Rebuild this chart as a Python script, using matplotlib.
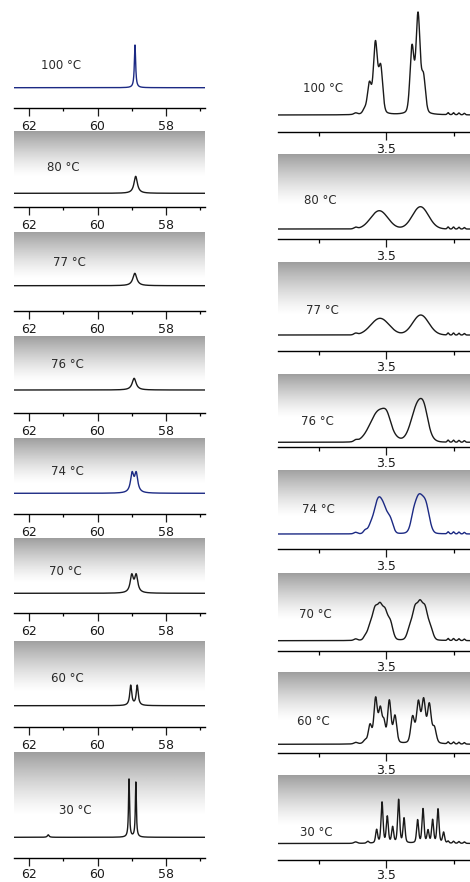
import numpy as np
import matplotlib
matplotlib.use('Agg')
import matplotlib.pyplot as plt
from matplotlib.ticker import FixedLocator, FixedFormatter, NullFormatter

temps = [100, 80, 77, 76, 74, 70, 60, 30]

# left column, 31P lines: (ppm, height, fwhm)
p31_100 = [(58.905, 42.7, 0.045)]
p31_80 = [(58.885, 17.0, 0.12)]
p31_77 = [(58.91, 12.4, 0.14)]
p31_76 = [(58.93, 11.7, 0.14)]
p31_74 = [(58.99, 18.5, 0.11), (58.87, 18.5, 0.11)]
p31_70 = [(59.00, 17.0, 0.11), (58.87, 17.0, 0.11)]
p31_60 = [(59.03, 20.0, 0.07), (58.84, 20.0, 0.07)]
p31_30 = [(61.44, 2.5, 0.06), (59.08, 58.0, 0.035), (58.88, 55.0, 0.035)]

# right column, 1H lines: (ppm, height, fwhm)
h1_small = [(3.545, 1.5, 0.006), (3.408, 2.0, 0.003), (3.400, 2.0, 0.003),
            (3.392, 1.8, 0.003), (3.384, 1.5, 0.003)]
h1_100 = [(3.532, 4.0, 0.006), (3.5246, 30.0, 0.007), (3.5157, 70.0, 0.007),
          (3.5079, 46.0, 0.007), (3.4615, 66.0, 0.007), (3.4526, 98.0, 0.007),
          (3.4446, 36.0, 0.007)]
h1_80 = [(3.510, 18.3, 0.030), (3.449, 22.3, 0.028)]
h1_77 = [(3.5089, 16.7, 0.032), (3.4486, 20.0, 0.028)]
h1_76 = [(3.5095, 32.0, 0.032), (3.4985, 8.0, 0.012), (3.4516, 40.0, 0.024),
         (3.443, 10.0, 0.012)]
h1_74 = [(3.531, 3.0, 0.006), (3.522, 9.0, 0.010), (3.5144, 19.0, 0.010),
         (3.5093, 20.0, 0.010), (3.5034, 19.0, 0.010), (3.4960, 13.0, 0.010),
         (3.4915, 5.0, 0.008), (3.460, 6.0, 0.008), (3.4516, 37.0, 0.016),
         (3.4405, 22.0, 0.012)]
h1_70 = [(3.531, 3.0, 0.006), (3.5237, 13.0, 0.009), (3.5163, 27.0, 0.009),
         (3.5089, 29.0, 0.009), (3.5015, 25.0, 0.009), (3.4937, 17.0, 0.009),
         (3.4645, 12.0, 0.009), (3.4570, 28.0, 0.009), (3.4496, 31.0, 0.009),
         (3.4422, 28.0, 0.009), (3.4345, 12.0, 0.009)]
h1_60 = [(3.531, 3.0, 0.006), (3.5237, 18.0, 0.006), (3.5154, 44.0, 0.006),
         (3.5084, 33.0, 0.006), (3.5030, 18.0, 0.005), (3.4951, 42.0, 0.006),
         (3.4867, 27.0, 0.006), (3.4606, 26.0, 0.0065), (3.4521, 40.0, 0.0065),
         (3.4443, 42.0, 0.0065), (3.4359, 38.0, 0.0065), (3.4284, 15.0, 0.0065)]
h1_30 = [(3.527, 2.0, 0.004), (3.5139, 13.3, 0.0035), (3.5059, 40.7, 0.0035),
         (3.4981, 26.3, 0.0035), (3.4902, 15.7, 0.0035), (3.4813, 43.3, 0.0035),
         (3.4733, 24.7, 0.0035), (3.4532, 23.0, 0.0035), (3.4452, 34.0, 0.0035),
         (3.4378, 12.3, 0.0035), (3.4310, 23.0, 0.0035), (3.4230, 34.0, 0.0035),
         (3.4147, 10.7, 0.0035)]

p31_sets = [p31_100, p31_80, p31_77, p31_76, p31_74, p31_70, p31_60, p31_30]
h1_sets = [h1_100, h1_80, h1_77, h1_76, h1_74, h1_70, h1_60, h1_30]

W, H = 470, 882
fig = plt.figure(figsize=(W / 100, H / 100), dpi=100)

# panel layout in pixels (top of panel, spectrum baseline, axis line)
left_top = [5, 131, 231.7, 335.7, 438.3, 538.3, 641, 752.3]
left_base = [87.7, 193.3, 285.7, 390, 493.3, 593.3, 705.7, 837.3]
left_axis = [108.3, 206.7, 310.7, 412.7, 514, 612.7, 727.3, 858]
left_lab = [(61, 65.7), (63.5, 167.7), (69, 262.3), (67.5, 365), (67.5, 471),
            (65, 571.7), (67.5, 679), (75, 810.7)]
right_top = [5, 154.3, 262.3, 374, 470, 572.7, 672.3, 775]
right_base = [115, 229, 335, 442.3, 534, 640.7, 744.3, 843.5]
right_axis = [132.3, 239, 350.7, 446.7, 549.3, 650.7, 753.3, 860]
right_lab = [(323, 88.3), (320, 201), (322, 311), (317, 421.7), (318, 509.3),
             (315, 615), (313, 721.7), (316.5, 832.3)]

right_eta = [0.25, 0.0, 0.0, 0.05, 0.1, 0.15, 0.3, 0.4]
blue = '#1c2a84'
black = '#1a1a1a'

t = np.linspace(0, 1, 200)[:, None]
grad = 1 - 0.38 * np.clip(1 - t / 0.6, 0, None) ** 1.3


def lineshape(x, peaks, eta):
    y = np.zeros_like(x)
    for x0, h, w in peaks:
        g = np.exp(-4 * np.log(2) * ((x - x0) / w) ** 2)
        lo = 1 / (1 + (2 * (x - x0) / w) ** 2)
        y += h * ((1 - eta) * g + eta * lo)
    return y


def make_panel(x0, x1, top, base, axis, gradient):
    ax = fig.add_axes([x0 / W, 1 - axis / H, (x1 - x0) / W, (axis - top) / H])
    ax.patch.set_alpha(0)
    if gradient:
        ax.imshow(grad, cmap='gray', vmin=0, vmax=1, extent=[0, 1, 0, 1],
                  transform=ax.transAxes, aspect='auto', interpolation='bilinear',
                  zorder=0)
    for s in ['top', 'left', 'right']:
        ax.spines[s].set_visible(False)
    ax.spines['bottom'].set_linewidth(1.0)
    ax.set_yticks([])
    return ax


# left column
x31 = np.linspace(62.44, 56.86, 3000)
for i, T in enumerate(temps):
    ax = make_panel(14, 205, left_top[i], left_base[i], left_axis[i], i > 0)
    off = left_axis[i] - left_base[i]
    y = lineshape(x31, p31_sets[i], 1.0)
    col = blue if T in (100, 74) else black
    ax.plot(x31, y + off, color=col, lw=1.0, zorder=3)
    ax.set_xlim(62.44, 56.86)
    ax.set_ylim(0, left_axis[i] - left_top[i])
    ax.xaxis.set_major_locator(FixedLocator([62, 60, 58]))
    ax.xaxis.set_major_formatter(FixedFormatter(['62', '60', '58']))
    ax.xaxis.set_minor_locator(FixedLocator([61, 59, 57]))
    ax.tick_params(axis='x', which='major', direction='out', length=6, width=0.9,
                   pad=2.5 if i < 7 else 1.5, labelsize=9, colors='#1a1a1a')
    ax.tick_params(axis='x', which='minor', direction='out', length=2.5, width=0.9)
    lx, ly = left_lab[i]
    fig.text(lx / W, 1 - ly / H, f'{T} °C', ha='center', va='center',
             fontsize=8.5, color='#2a2a2a')

# right column
x1h = np.linspace(3.66, 3.3756, 3000)
for i, T in enumerate(temps):
    ax = make_panel(278, 470, right_top[i], right_base[i], right_axis[i], i > 0)
    off = right_axis[i] - right_base[i]
    y = lineshape(x1h, h1_sets[i] + h1_small, right_eta[i])
    col = blue if T == 74 else black
    ax.plot(x1h, y + off, color=col, lw=1.0, zorder=3)
    ax.set_xlim(3.66, 3.3756)
    ax.set_ylim(0, right_axis[i] - right_top[i])
    ax.xaxis.set_major_locator(FixedLocator([3.5]))
    ax.xaxis.set_major_formatter(FixedFormatter(['3.5']))
    ax.xaxis.set_minor_locator(FixedLocator([3.6, 3.4]))
    ax.xaxis.set_minor_formatter(NullFormatter())
    ax.tick_params(axis='x', which='major', direction='out', length=5.5, width=0.9,
                   pad=2.2 if i < 7 else 0.8, labelsize=9, colors='#1a1a1a')
    ax.tick_params(axis='x', which='minor', direction='out', length=2.8, width=0.9)
    lx, ly = right_lab[i]
    fig.text(lx / W, 1 - ly / H, f'{T} °C', ha='center', va='center',
             fontsize=8.5, color='#2a2a2a')

fig.savefig('out.png', dpi=100)
